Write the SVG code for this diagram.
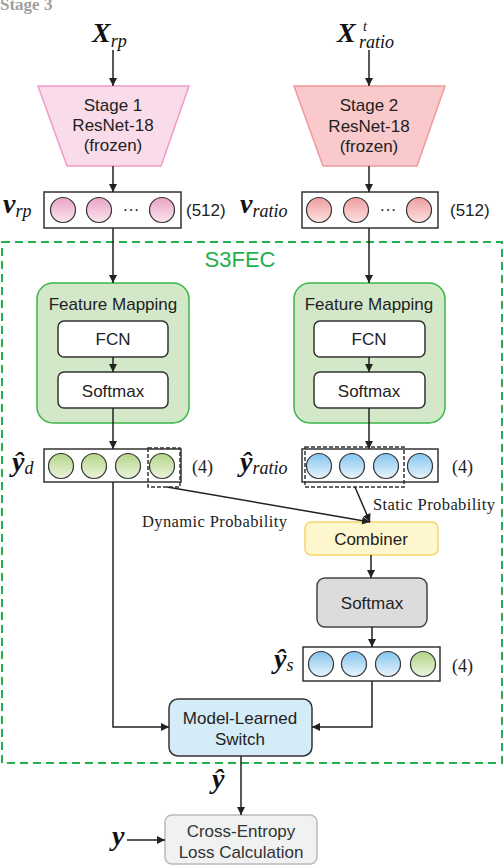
<svg xmlns="http://www.w3.org/2000/svg" width="504" height="866" viewBox="0 0 504 866">
<defs>
<linearGradient id="gPink" x1="0" y1="0" x2="0" y2="1"><stop offset="0" stop-color="#e9a3c4"/><stop offset="1" stop-color="#fce5ef"/></linearGradient>
<linearGradient id="gRed" x1="0" y1="0" x2="0" y2="1"><stop offset="0" stop-color="#ef9c9f"/><stop offset="1" stop-color="#fde2e2"/></linearGradient>
<linearGradient id="gGreen" x1="0" y1="0" x2="0" y2="1"><stop offset="0" stop-color="#b3d488"/><stop offset="1" stop-color="#ebf4dd"/></linearGradient>
<linearGradient id="gBlue" x1="0" y1="0" x2="0" y2="1"><stop offset="0" stop-color="#84c4ee"/><stop offset="1" stop-color="#e9f5fd"/></linearGradient>
<marker id="arr" viewBox="0 0 10 10" refX="10" refY="5" markerWidth="8" markerHeight="8" markerUnits="userSpaceOnUse" orient="auto"><path d="M0,0 L10,5 L0,10 z" fill="#222"/></marker>
</defs>
<style>
.sans{font-family:"Liberation Sans",Arial,sans-serif;font-size:17px;fill:#222}
.serif{font-family:"Liberation Serif","Times New Roman",serif;font-size:16.5px;fill:#222}
.math{font-family:"Liberation Serif","Times New Roman",serif;font-style:italic;fill:#111}
.mb{font-weight:bold;font-size:28px}
.sub{font-size:18px}
.vec{fill:#fff;stroke:#333;stroke-width:1.5}
.c{stroke:#333;stroke-width:1.2}
.dash{fill:none;stroke:#333;stroke-width:1.5;stroke-dasharray:4 2}
.wbox{fill:#fff;stroke:#333;stroke-width:1.5}
.conn{fill:none;stroke:#222;stroke-width:1.5;marker-end:url(#arr)}
</style>

<text x="0" y="10" style="font-family:'Liberation Serif',serif;font-weight:bold;font-size:17px;fill:#a0a0a0">Stage 3</text>

<g id="S3FEC">
<rect x="2" y="242" width="500" height="521" fill="none" stroke="#22b14c" stroke-width="2" stroke-dasharray="8 5"/>
<text x="240" y="267" text-anchor="middle" style="font-family:'Liberation Sans',Arial,sans-serif;font-size:22px;fill:#1db14b">S3FEC</text>
</g>

<g id="X_rp">
<text x="92" y="42" class="math"><tspan class="mb">X</tspan><tspan class="sub" dy="5">rp</tspan></text>
</g>
<g id="X_ratio">
<text x="337" y="42" class="math mb">X</text>
<text x="363" y="31" class="math" style="font-size:14px">t</text>
<text x="359" y="48" class="math sub">ratio</text>
</g>

<g id="stage1">
<polygon points="38,86 189,86 161,166 67,166" fill="#fadbe9" stroke="#f29ac6" stroke-width="1.5"/>
<text x="113" y="111" text-anchor="middle" class="sans">Stage 1</text>
<text x="113" y="131" text-anchor="middle" class="sans">ResNet-18</text>
<text x="113" y="151" text-anchor="middle" class="sans">(frozen)</text>
</g>
<g id="stage2">
<polygon points="294,86 445,86 417,166 323,166" fill="#f9c9cb" stroke="#ef9a9c" stroke-width="1.5"/>
<text x="369" y="111" text-anchor="middle" class="sans">Stage 2</text>
<text x="369" y="132" text-anchor="middle" class="sans">ResNet-18</text>
<text x="369" y="152" text-anchor="middle" class="sans">(frozen)</text>
</g>

<g id="v_rp">
<text x="3" y="213" class="math"><tspan class="mb">v</tspan><tspan class="sub" dy="4">rp</tspan></text>
<rect x="44" y="192" width="137" height="36" class="vec"/>
<circle cx="63" cy="210" r="12.5" fill="url(#gPink)" class="c"/>
<circle cx="99" cy="210" r="12.5" fill="url(#gPink)" class="c"/>
<text x="131" y="215" text-anchor="middle" class="sans">···</text>
<circle cx="162" cy="210" r="12.5" fill="url(#gPink)" class="c"/>
<text x="186" y="216" class="sans">(512)</text>
</g>
<g id="v_ratio">
<text x="240" y="213" class="math"><tspan class="mb">v</tspan><tspan class="sub" dy="4">ratio</tspan></text>
<rect x="302" y="192" width="136" height="36" class="vec"/>
<circle cx="319" cy="210" r="12.5" fill="url(#gRed)" class="c"/>
<circle cx="356" cy="210" r="12.5" fill="url(#gRed)" class="c"/>
<text x="388" y="215" text-anchor="middle" class="sans">···</text>
<circle cx="419" cy="210" r="12.5" fill="url(#gRed)" class="c"/>
<text x="450" y="216" class="sans">(512)</text>
</g>

<g id="fm_left">
<rect x="37" y="283" width="152" height="140" rx="16" fill="#d3e8c9" stroke="#3ab54a" stroke-width="1.5"/>
<text x="113" y="310" text-anchor="middle" class="sans">Feature Mapping</text>
<rect x="58" y="321" width="110" height="36" rx="6" class="wbox"/>
<text x="113" y="345" text-anchor="middle" class="sans">FCN</text>
<rect x="58" y="372" width="110" height="36" rx="6" class="wbox"/>
<text x="113" y="397" text-anchor="middle" class="sans">Softmax</text>
</g>
<g id="fm_right">
<rect x="294" y="283" width="151" height="140" rx="16" fill="#d3e8c9" stroke="#3ab54a" stroke-width="1.5"/>
<text x="369" y="310" text-anchor="middle" class="sans">Feature Mapping</text>
<rect x="314" y="321" width="111" height="36" rx="6" class="wbox"/>
<text x="369" y="345" text-anchor="middle" class="sans">FCN</text>
<rect x="314" y="372" width="111" height="36" rx="6" class="wbox"/>
<text x="369" y="397" text-anchor="middle" class="sans">Softmax</text>
</g>

<g id="y_d">
<text x="12" y="471" class="math"><tspan class="mb">ŷ</tspan><tspan class="sub" dy="3">d</tspan></text>
<rect x="44" y="449" width="137" height="33" class="vec"/>
<circle cx="61" cy="466" r="12.5" fill="url(#gGreen)" class="c"/>
<circle cx="94" cy="466" r="12.5" fill="url(#gGreen)" class="c"/>
<circle cx="128" cy="466" r="12.5" fill="url(#gGreen)" class="c"/>
<circle cx="162" cy="466" r="12.5" fill="url(#gGreen)" class="c"/>
<rect x="148" y="448" width="32" height="39" class="dash"/>
<text x="192" y="473" class="serif" style="font-size:18px">(4)</text>
</g>
<g id="y_ratio">
<text x="240" y="471" class="math"><tspan class="mb">ŷ</tspan><tspan class="sub" dy="3">ratio</tspan></text>
<rect x="302" y="449" width="136" height="33" class="vec"/>
<circle cx="319" cy="466" r="12.5" fill="url(#gBlue)" class="c"/>
<circle cx="352" cy="466" r="12.5" fill="url(#gBlue)" class="c"/>
<circle cx="386" cy="466" r="12.5" fill="url(#gBlue)" class="c"/>
<circle cx="420" cy="466" r="12.5" fill="url(#gBlue)" class="c"/>
<rect x="305" y="447" width="99" height="40" class="dash"/>
<text x="452" y="473" class="serif" style="font-size:18px">(4)</text>
</g>

<g id="combiner">
<rect x="305" y="522" width="133" height="33" rx="6" fill="#fef6cc" stroke="#f5d56b" stroke-width="1.5"/>
<text x="371" y="545" text-anchor="middle" class="sans">Combiner</text>
</g>
<g id="softmax2">
<rect x="317" y="578" width="110" height="49" rx="8" fill="#dcdcdd" stroke="#444" stroke-width="1.5"/>
<text x="372" y="609" text-anchor="middle" class="sans">Softmax</text>
</g>

<g id="y_s">
<text x="274" y="668" class="math"><tspan class="mb">ŷ</tspan><tspan class="sub" dy="3">s</tspan></text>
<rect x="303" y="647" width="137" height="34" class="vec"/>
<circle cx="321" cy="664" r="12.5" fill="url(#gBlue)" class="c"/>
<circle cx="354" cy="664" r="12.5" fill="url(#gBlue)" class="c"/>
<circle cx="388" cy="664" r="12.5" fill="url(#gBlue)" class="c"/>
<circle cx="423" cy="664" r="12.5" fill="url(#gGreen)" class="c"/>
<text x="452" y="672" class="serif" style="font-size:18px">(4)</text>
</g>

<g id="switch">
<rect x="169" y="699" width="143" height="57" rx="9" fill="#d4ecf7" stroke="#333" stroke-width="1.5"/>
<text x="240" y="724" text-anchor="middle" class="sans">Model-Learned</text>
<text x="240" y="745" text-anchor="middle" class="sans">Switch</text>
</g>

<g id="y_hat">
<text x="212" y="788" class="math mb">ŷ</text>
</g>

<g id="loss">
<rect x="165" y="815" width="152" height="49" rx="7" fill="#f0f1f1" stroke="#bbbbbb" stroke-width="1.5"/>
<text x="241" y="837" text-anchor="middle" class="sans" style="fill:#333">Cross-Entropy</text>
<text x="241" y="858" text-anchor="middle" class="sans" style="fill:#333">Loss Calculation</text>
</g>
<g id="y_label">
<text x="112" y="845" class="math mb">y</text>
</g>

<g id="labels">
<text x="373" y="510" class="serif" textLength="122">Static Probability</text>
<text x="142" y="527" class="serif" textLength="145">Dynamic Probability</text>
</g>

<g id="connectors">
<line x1="113" y1="50" x2="113" y2="86" class="conn"/>
<line x1="113" y1="166" x2="113" y2="192" class="conn"/>
<line x1="113" y1="228" x2="113" y2="283" class="conn"/>
<line x1="113" y1="357" x2="113" y2="372" class="conn"/>
<line x1="113" y1="408" x2="113" y2="449" class="conn"/>
<line x1="369" y1="50" x2="369" y2="86" class="conn"/>
<line x1="369" y1="166" x2="369" y2="192" class="conn"/>
<line x1="369" y1="228" x2="369" y2="283" class="conn"/>
<line x1="369" y1="357" x2="369" y2="372" class="conn"/>
<line x1="369" y1="408" x2="369" y2="449" class="conn"/>
<line x1="167" y1="487" x2="370" y2="522" class="conn"/>
<line x1="355" y1="487" x2="370" y2="522" class="conn"/>
<line x1="371" y1="555" x2="371" y2="578" class="conn"/>
<line x1="372" y1="627" x2="372" y2="647" class="conn"/>
<polyline points="113,482 113,727 169,727" class="conn"/>
<polyline points="372,681 372,727 312,727" class="conn"/>
<line x1="241" y1="756" x2="241" y2="815" class="conn"/>
<line x1="127" y1="840" x2="165" y2="840" class="conn"/>
</g>
</svg>
